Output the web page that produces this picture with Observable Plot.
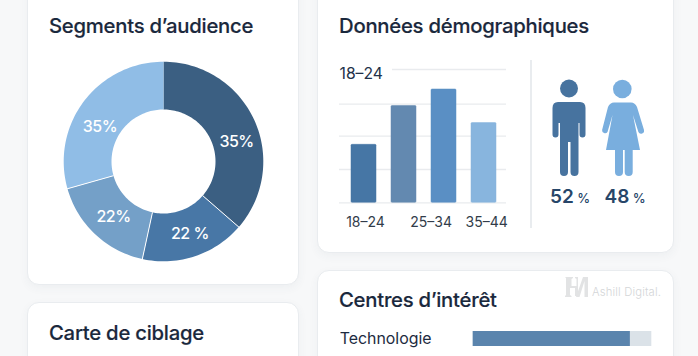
<!DOCTYPE html>
<html lang="fr">
<head>
<meta charset="utf-8">
<script src="https://cdn.jsdelivr.net/npm/d3@7"></script>
<script src="https://cdn.jsdelivr.net/npm/@observablehq/plot@0.6"></script>
<style>
  html, body { margin: 0; padding: 0; width: 698px; height: 356px; overflow: hidden; background: #f7f8f9; font-family: Inter, sans-serif; }
  .card { position: absolute; background: #fff; border: 1px solid #e9ecef; border-radius: 12px; box-shadow: 0 3px 10px rgba(60,75,95,.05); box-sizing: border-box; }
  .title { position: absolute; font-size: 20.3px; font-weight: 500; color: #1a283c; white-space: nowrap; line-height: 24px; letter-spacing: -0.25px; -webkit-text-stroke: 0.15px #1a283c; }
  .abs { position: absolute; }
  .pct { position: absolute; top: 185px; font-size: 19px; font-weight: 600; color: #274669; white-space: nowrap; line-height: 24px; }
  .pct span { font-size: 13px; font-weight: 500; margin-left: 3.5px; }
  .mark { position: absolute; left: 592px; top: 285px; font-size: 11.3px; font-weight: 300; letter-spacing: 0.15px; color: #d4d6d8; white-space: nowrap; line-height: 14px; }
  svg { display: block; }
</style>
</head>
<body>
<div class="card" style="left:27px;top:-20px;width:272px;height:305px"></div>
<div class="card" style="left:317px;top:-20px;width:357px;height:273px"></div>
<div class="card" style="left:27px;top:302px;width:272px;height:80px"></div>
<div class="card" style="left:317px;top:270px;width:357px;height:110px"></div>

<div class="title" style="left:49px;top:14px">Segments d’audience</div>
<div class="title" style="left:339px;top:14px">Données démographiques</div>
<div class="title" style="left:49px;top:321px">Carte de ciblage</div>
<div class="title" style="left:339px;top:288px">Centres d’intérêt</div>

<div class="abs" style="left:530px;top:60px;width:1.5px;height:168px;background:#e9ecef"></div>

<svg class="abs" style="left:0;top:0" width="698" height="356" aria-hidden="true">
  <circle cx="569" cy="88.5" r="9" fill="#47739f"/>
  <path fill="#47739f" d="M558,102H580Q585.5,102 585.5,108V134.5a3,3 0 0 1-6,0V123H578.5V172a4,4 0 0 1-8,0V142H568V172a4,4 0 0 1-8,0V123H558.5V134.5a3,3 0 0 1-6,0V108Q552.5,102 558,102Z"/>
  <circle cx="622.3" cy="89" r="9.3" fill="#79aede"/>
  <path fill="#79aede" d="M614,102.5H631Q635,102.5 637,107L644,130a3,3 0 0 1-5.6,2L633,115L640,150H632.7V172a4,4 0 0 1-8,0V150H623V172a4,4 0 0 1-8,0V150H606L612.5,115L607.5,132a3,3 0 0 1-5.4,-2L608,107Q610,102.5 614,102.5Z"/>
  <g fill="#e2e3e4">
    <path d="M565,277h8v1l-1.5,1v7h5v-7l-1.5,-1v-1h3v19h-3v-8h-5v7l1.5,1v1h-6.5v-1l1,-1v-17l-1,-1z"/>
    <path d="M576,297L583,277h5v20h-3.5v-16L579.5,297z"/>
  </g>
</svg>
<div class="pct" style="left:550px">52<span>%</span></div>
<div class="pct" style="left:604.5px">48<span>%</span></div>

<div class="mark">Ashill Digital.</div>

<script>
// Audience segments: printed labels, and the arc sweep (%)
const segmentIds = ["a", "b", "c", "d"];
const segmentLabels = ["35%", "22 %", "22%", "35%"];
const segmentSweeps = [36.4, 17, 17.2, 29.4];
const segmentColors = ["#3b5f82", "#4877a6", "#74a0c8", "#90bde6"];

// Demographic bars
const barIds = [1, 2, 3, 4];
const barValues = [43.5, 72.6, 85, 59.8];
const barColors = ["#4676a5", "#6389b0", "#5a8fc4", "#88b5de"];
const gridValues = [0, 25, 50, 74, 100];
const ageLabels = ["18–24", "25–34", "35–44"];
const topLabel = "18–24";

// Interests
const interestNames = ["Technologie"];
const interestValues = [88];

const OUTER = 99.8, INNER = 52;
const pol = (r, pct) => { const a = pct / 100 * 2 * Math.PI; return [r * Math.sin(a), r * Math.cos(a)]; };

let cum = 0;
const slices = segmentIds.map((id, i) => {
  const start = cum; cum += segmentSweeps[i];
  return {id, start, end: cum, label: segmentLabels[i]};
});
const slicePoints = slices.flatMap(s => {
  const n = Math.ceil((s.end - s.start) * 2);
  const pts = [];
  for (let k = 0; k <= n; k++) pts.push(pol(OUTER, s.start + (s.end - s.start) * k / n));
  for (let k = n; k >= 0; k--) pts.push(pol(INNER, s.start + (s.end - s.start) * k / n));
  pts.push(pts[0]);
  return pts.map(([x, y]) => ({id: s.id, x, y}));
});
const seams = slices.slice(0, 3).map(s => {
  const [x1, y1] = pol(INNER, s.end), [x2, y2] = pol(OUTER + 1, s.end);
  return {x1, y1, x2, y2};
});
const labelNudge = [[4, 11.5], [2.5, 0], [2, 0], [-3, 11]];
const labelRows = slices.map((s, i) => {
  const [x, y] = pol((OUTER + INNER) / 2, (s.start + s.end) / 2);
  return {x, y, label: s.label, dx: labelNudge[i][0], dy: labelNudge[i][1]};
});

const donut = Plot.plot({
  width: 240, height: 240, margin: 0, style: {background: "transparent", fontFamily: "Inter, sans-serif", letterSpacing: "-0.5px"},
  x: {domain: [-120, 120], axis: null},
  y: {domain: [-120, 120], axis: null},
  color: {domain: segmentIds, range: segmentColors},
  marks: [
    Plot.line(slicePoints, {x: "x", y: "y", z: "id", fill: "id", stroke: null, curve: "linear"}),
    Plot.link(seams, {x1: "x1", y1: "y1", x2: "x2", y2: "y2", stroke: "#fff", strokeWidth: 1}),
    ...labelRows.map(d => Plot.text([d], {x: "x", y: "y", text: "label", dx: d.dx, dy: d.dy, fill: "#fff", fontSize: 16, fontWeight: 500}))
  ]
});
donut.style.cssText += ";position:absolute;left:43px;top:41px";
document.body.appendChild(donut);

const bars = Plot.plot({
  width: 190, height: 190, marginLeft: 19, marginRight: 4, marginTop: 0, marginBottom: 0,
  style: {background: "transparent", fontFamily: "Inter, sans-serif"},
  x: {type: "band", domain: barIds, range: [14.7, 192.7], padding: 0.375, axis: null},
  y: {domain: [0, 100], range: [152.3, 19], axis: null},
  color: {domain: barIds, range: barColors},
  marks: [
    Plot.ruleY(gridValues.filter(v => v < 100), {stroke: "#e9ebee", strokeWidth: 1.3, strokeOpacity: 1}),
    Plot.ruleY(gridValues.filter(v => v === 100), {stroke: "#e9ebee", strokeWidth: 1.3, strokeOpacity: 1, insetLeft: 53}),
    Plot.barY(barIds.map((id, i) => ({id, v: barValues[i]})), {x: "id", y: "v", fill: "id", stroke: "id", strokeOpacity: 0.5, strokeWidth: 1, r: 1}),
    Plot.text([topLabel], {frameAnchor: "left", y: () => 100, dy: 4, dx: 0, textAnchor: "start", fill: "#223149", fontSize: 15.7}),
    ...[[0, 1, 1.5], [1, 3, -12.8], [2, 4, 2.7]].map(([k, id, dx]) =>
      Plot.text([ageLabels[k]], {x: () => id, y: () => 0, dx, dy: 19.5, fill: "#323c4a", fontSize: 14}))
  ]
});
bars.style.cssText += ";position:absolute;left:320px;top:50px";
document.body.appendChild(bars);

const interests = Plot.plot({
  width: 320, height: 21, marginLeft: 132.7, marginRight: 8.7, marginTop: 3, marginBottom: 3,
  style: {background: "transparent", fontFamily: "Inter, sans-serif"},
  x: {domain: [0, 100], axis: null},
  y: {domain: interestNames, axis: null, padding: 0},
  marks: [
    Plot.barX(interestNames, {x: () => 100, y: d => d, fill: "#dbe2e8"}),
    Plot.barX(interestNames.map((n, i) => ({n, v: interestValues[i]})), {x: "v", y: "n", fill: "#5a84ad"}),
    Plot.text(interestNames, {x: () => 0, y: d => d, dx: -133.5, textAnchor: "start", fill: "#1d2b3f", fontSize: 15.9})
  ]
});
interests.style.cssText += ";position:absolute;left:340px;top:328px";
document.body.appendChild(interests);
</script>
</body>
</html>
